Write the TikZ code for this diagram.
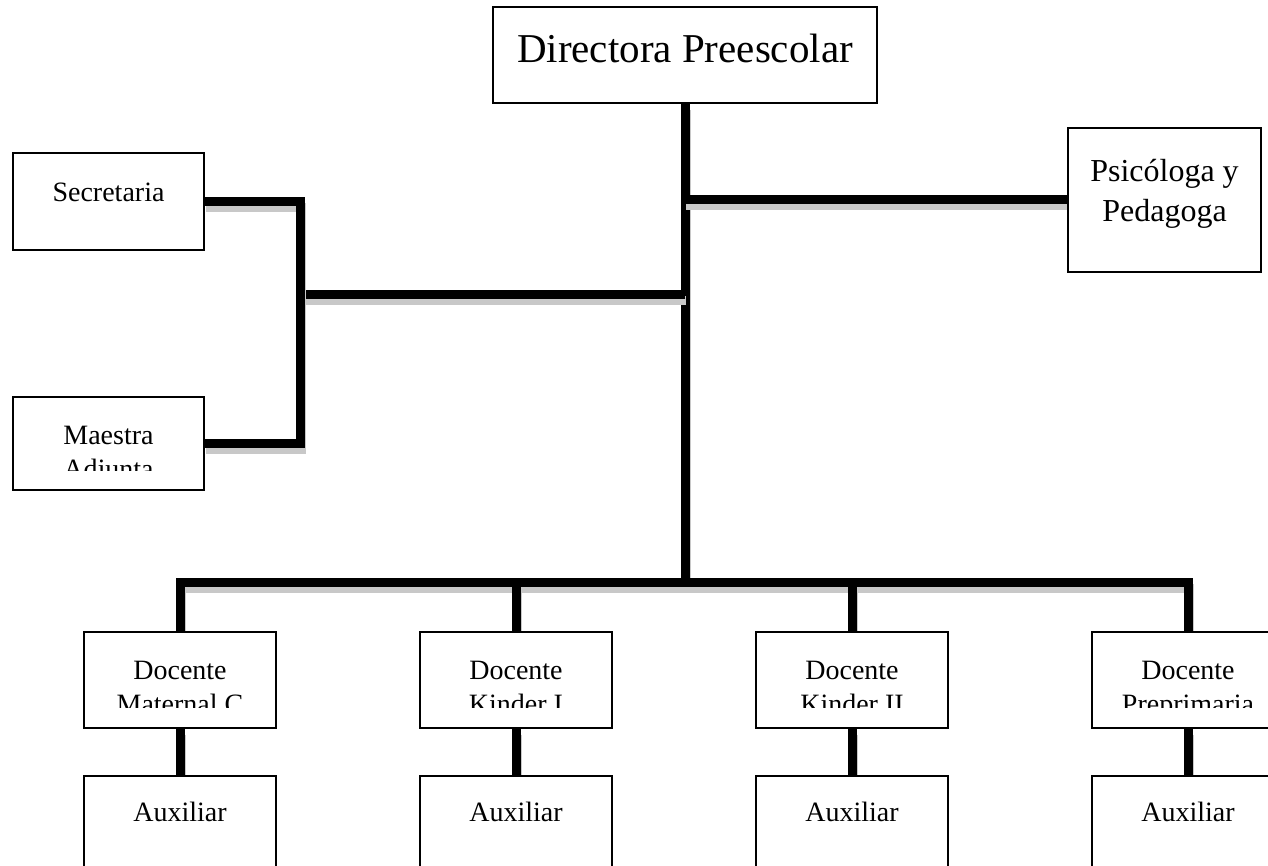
\documentclass[tikz,border=0pt]{standalone}
\usepackage{fontspec}
\setmainfont{Liberation Serif}
\usepackage{tikz}
\usetikzlibrary{positioning,calc,backgrounds}
\definecolor{shadowgray}{RGB}{200, 200, 200}

% two lines of text, the lower one cut by the box
\newcommand{\cutlabel}[4]{%
  \begin{scope}
    \clip ([yshift=#2]#1.south west) rectangle (#1.north east);
    \node[label, anchor=base] (#1-a) at ([yshift=-48pt]#1.north) {#3};
    \node[label, anchor=base] (#1-b) at ([yshift=-82pt]#1.north) {#4};
  \end{scope}}

\begin{document}
\begin{tikzpicture}[
    x=1pt, y=-1pt,
    post/.style={draw, line width=1.8pt, fill=white, inner sep=0pt},
    label/.style={font=\fontsize{28}{36}\selectfont, inner sep=0pt},
    conn/.style={line width=9pt, preaction={draw=shadowgray, line width=9pt, transform canvas={shift={(1pt,-6pt)}}}}
]
\useasboundingbox (0,0) rectangle (1268,866);
\clip (0,0) rectangle (1268,866);

% Boxes
\node[post, minimum width=384pt, minimum height=96pt] (dir) at (685,55) {};
\node[post, minimum width=193pt, minimum height=144pt] (psi) at (1164.5,200) {};
\node[post, minimum width=191pt, minimum height=97pt] (sec) at (108.5,201.5) {};
\node[post, minimum width=191pt, minimum height=93pt] (maes) at (108.5,443.5) {};

\node[post, minimum width=192pt, minimum height=96pt] (mat) at (180,680) {};
\node[post, minimum width=192pt, minimum height=96pt] (kin1) at (516,680) {};
\node[post, minimum width=192pt, minimum height=96pt] (kin2) at (852,680) {};
\node[post, minimum width=192pt, minimum height=96pt] (pre) at (1188,680) {};

\node[post, minimum width=192pt, minimum height=96pt] (aux1) at (180,824) {};
\node[post, minimum width=192pt, minimum height=96pt] (aux2) at (516,824) {};
\node[post, minimum width=192pt, minimum height=96pt] (aux3) at (852,824) {};
\node[post, minimum width=192pt, minimum height=96pt] (aux4) at (1188,824) {};

% Texts
\node[label, font=\fontsize{41}{48}\selectfont, anchor=base] (dir-a) at ([yshift=-56pt]dir.north) {Directora Preescolar};
\node[label, font=\fontsize{32}{36}\selectfont, anchor=base] (psi-a) at ([yshift=-54pt]psi.north) {Psicóloga y};
\node[label, font=\fontsize{32}{36}\selectfont, anchor=base] (psi-b) at ([yshift=-94pt]psi.north) {Pedagoga};
\node[label, anchor=base] (sec-a) at ([yshift=-49pt]sec.north) {Secretaria};
\cutlabel{maes}{20pt}{Maestra}{Adjunta}
\cutlabel{mat}{21pt}{Docente}{Maternal C}
\cutlabel{kin1}{21pt}{Docente}{Kinder I}
\cutlabel{kin2}{21pt}{Docente}{Kinder II}
\cutlabel{pre}{21pt}{Docente}{Preprimaria}
\foreach \i in {1,...,4}
  \node[label, anchor=base] (aux\i-a) at ([yshift=-46pt]aux\i.north) {Auxiliar};

% Connectors
\begin{scope}[on background layer]
\coordinate (jpsi) at (685,200);
\coordinate (jleft) at (685,295);
\coordinate (jbot) at (685,582);
\coordinate (jmid) at (300,295);
\draw[conn] (dir.south) -- (jbot);
\draw[conn] (jpsi) -- (psi.west);
\draw[conn] (jleft) -- (jmid);
\draw[conn] (sec.east) -| (jmid);
\draw[conn] (maes.east) -| (jmid);
\draw[conn] (mat.north) |- (jbot);
\draw[conn] (pre.north) |- (jbot);
\draw[conn] (kin1.north) -- (kin1.north |- jbot);
\draw[conn] (kin2.north) -- (kin2.north |- jbot);
\draw[conn] (mat) -- (aux1);
\draw[conn] (kin1) -- (aux2);
\draw[conn] (kin2) -- (aux3);
\draw[conn] (pre) -- (aux4);
\end{scope}

\end{tikzpicture}
\end{document}
